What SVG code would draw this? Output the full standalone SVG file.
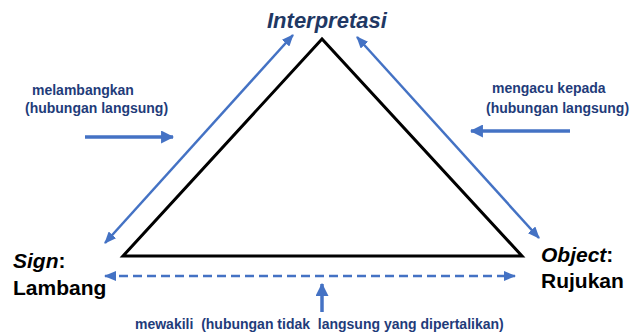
<svg xmlns="http://www.w3.org/2000/svg" width="630" height="336" viewBox="0 0 630 336">
  <style>
    .lbl { font-family: "Liberation Sans", Arial, sans-serif; font-weight: bold; font-size: 14px; fill: #1F3C7A; }
    .node { font-family: "Liberation Sans", Arial, sans-serif; font-weight: bold; font-size: 21px; fill: #000; }
    .it { font-style: italic; }
    .arr { stroke: #4472C4; stroke-width: 2.5; fill: none; }
    .thick { stroke-width: 3.5; }
    .dash { stroke-dasharray: 9 5; }
  </style>
  <defs>
    <marker id="ah" viewBox="0 0 12 10" markerWidth="12" markerHeight="10" refX="11" refY="5" markerUnits="userSpaceOnUse" orient="auto-start-reverse">
      <path d="M0,0 L12,5 L0,10 z" fill="#4472C4"/>
    </marker>
    <marker id="ahb" viewBox="0 0 12 12" markerWidth="13" markerHeight="13" refX="11" refY="6" markerUnits="userSpaceOnUse" orient="auto-start-reverse">
      <path d="M0,0 L12,6 L0,12 z" fill="#4472C4"/>
    </marker>
  </defs>
  <rect width="630" height="336" fill="#fff"/>
  <g id="triangle">
    <polygon points="322,39 123,256 522,256" fill="none" stroke="#000" stroke-width="3"/>
  </g>
  <g id="connectors">
    <line class="arr" x1="105" y1="243" x2="293" y2="35" marker-start="url(#ah)" marker-end="url(#ah)"/>
    <line class="arr" x1="357" y1="37" x2="539" y2="238" marker-start="url(#ah)" marker-end="url(#ah)"/>
    <line class="arr dash" x1="105" y1="276" x2="515" y2="276" marker-start="url(#ah)" marker-end="url(#ah)"/>
    <line class="arr thick" x1="85" y1="137" x2="173" y2="137" marker-end="url(#ahb)"/>
    <line class="arr thick" x1="570" y1="131" x2="471" y2="131" marker-end="url(#ahb)"/>
    <line class="arr thick" x1="322" y1="312" x2="322" y2="284" marker-end="url(#ahb)"/>
  </g>
  <g id="interpretasi">
    <text x="267" y="28" class="node it" font-size="22" style="fill:#1F3864;font-size:22px">Interpretasi</text>
  </g>
  <g id="sign">
    <text x="13" y="268" class="node"><tspan class="it">Sign</tspan>:</text>
    <text x="13" y="295" class="node">Lambang</text>
  </g>
  <g id="object">
    <text x="541" y="262" class="node"><tspan class="it">Object</tspan>:</text>
    <text x="541" y="288" class="node">Rujukan</text>
  </g>
  <g id="label-melambangkan">
    <text x="32" y="95" class="lbl">melambangkan</text>
    <text x="25" y="113" class="lbl">(hubungan langsung)</text>
  </g>
  <g id="label-mengacu">
    <text x="492" y="93" class="lbl">mengacu kepada</text>
    <text x="486" y="113" class="lbl">(hubungan langsung)</text>
  </g>
  <g id="label-mewakili">
    <text x="135" y="329" class="lbl" xml:space="preserve">mewakili  (hubungan tidak  langsung yang dipertalikan)</text>
  </g>
</svg>
